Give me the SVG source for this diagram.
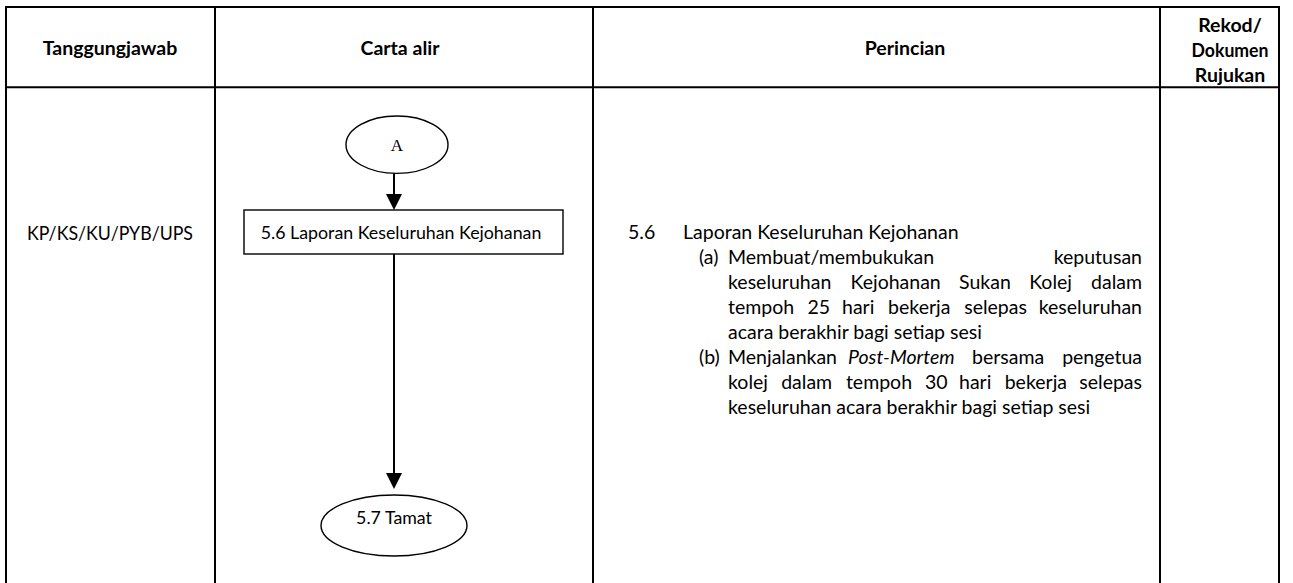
<svg xmlns="http://www.w3.org/2000/svg" width="1293" height="583" viewBox="0 0 1293 583">
<style>
.tl{stroke:#000;stroke-width:2;fill:none}
.h{font-family:Lato,"Liberation Sans",sans-serif;font-weight:bold;font-size:19.5px;fill:#000;text-anchor:middle}
.t{font-family:Lato,"Liberation Sans",sans-serif;font-size:19.5px;fill:#000}
.s{font-family:Lato,"Liberation Sans",sans-serif;font-size:17.8px;fill:#000;text-anchor:middle}
.shape{fill:#fff;stroke:#000;stroke-width:1.4}
.conn{stroke:#000;stroke-width:2;fill:none}
.e{text-anchor:end}
</style>
<defs>
<marker id="arr" viewBox="0 0 16 16" refX="12" refY="8" markerWidth="16" markerHeight="16" markerUnits="userSpaceOnUse" orient="auto">
<path d="M0,0 L16,8 L0,16 z" fill="#000"/>
</marker>
</defs>
<rect width="1293" height="583" fill="#fff"/>
<g id="table">
<path class="tl" d="M6,7 H1279 M6,87.3 H1279 M6,6 V583 M215,6 V583 M593,6 V583 M1160,6 V583 M1279,6 V583"/>
<text class="h" x="110" y="55">Tanggungjawab</text>
<text class="h" x="400" y="55">Carta alir</text>
<text class="h" x="905" y="55">Perincian</text>
<text class="h" x="1230" y="32">Rekod/</text>
<text class="h" x="1230" y="57" textLength="77" lengthAdjust="spacingAndGlyphs">Dokumen</text>
<text class="h" x="1230" y="82">Rujukan</text>
<text class="t" x="110" y="239.5" text-anchor="middle" textLength="166" lengthAdjust="spacingAndGlyphs">KP/KS/KU/PYB/UPS</text>
</g>
<g id="connectors">
<path class="conn" d="M394,173.3 V206" marker-end="url(#arr)"/>
<path class="conn" d="M394,254 V485" marker-end="url(#arr)"/>
</g>
<g id="node-A">
<ellipse class="shape" cx="397" cy="144.7" rx="51" ry="28.7"/>
<text x="397" y="150.5" font-family="'Liberation Serif',serif" font-size="17" text-anchor="middle">A</text>
</g>
<g id="node-5-6">
<rect class="shape" x="244" y="210" width="319" height="44"/>
<text class="s" x="401" y="239">5.6 Laporan Keseluruhan Kejohanan</text>
</g>
<g id="node-5-7">
<ellipse class="shape" cx="394" cy="525.5" rx="73" ry="30.5"/>
<text class="s" x="394" y="524">5.7 Tamat</text>
</g>
<g id="perincian">
<text class="t" x="628" y="238.5">5.6</text>
<text class="t" x="683" y="238.5">Laporan Keseluruhan Kejohanan</text>
<text class="t" x="699" y="263.5">(a)</text>
<text class="t" x="728" y="263.5">Membuat/membukukan</text>
<text class="t e" x="1142" y="263.5">keputusan</text>
<text class="t" y="288.5"><tspan x="728">keseluruhan</tspan><tspan x="850.5">Kejohanan</tspan><tspan x="959.1">Sukan</tspan><tspan x="1029.2">Kolej</tspan></text>
<text class="t e" x="1142" y="288.5">dalam</text>
<text class="t" y="313.5"><tspan x="728">tempoh</tspan><tspan x="807.5">25</tspan><tspan x="842">hari</tspan><tspan x="888.1">bekerja</tspan><tspan x="964.2">selepas</tspan></text>
<text class="t e" x="1142" y="313.5">keseluruhan</text>
<text class="t" x="728" y="338.5">acara berakhir bagi setiap sesi</text>
<text class="t" x="699" y="363.5">(b)</text>
<text class="t" y="363.5"><tspan x="728">Menjalankan</tspan><tspan x="848" font-style="italic">Post-Mortem</tspan><tspan x="972">bersama</tspan></text>
<text class="t e" x="1142" y="363.5">pengetua</text>
<text class="t" y="388.5"><tspan x="728">kolej</tspan><tspan x="781.2">dalam</tspan><tspan x="845.9">tempoh</tspan><tspan x="925">30</tspan><tspan x="959">hari</tspan><tspan x="1004.7">bekerja</tspan></text>
<text class="t e" x="1142" y="388.5">selepas</text>
<text class="t" x="728" y="413.5">keseluruhan acara berakhir bagi setiap sesi</text>
</g>
</svg>
